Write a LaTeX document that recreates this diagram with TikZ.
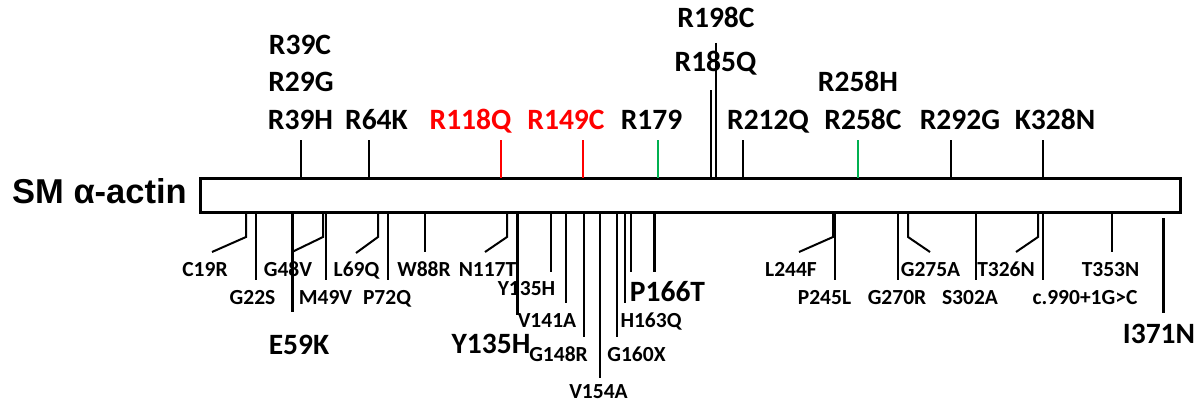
\documentclass[tikz,border=0pt]{standalone}
\usepackage{fontspec}
\setmainfont{Carlito}
\newfontfamily\titlefont{Liberation Sans}
\definecolor{mred}{RGB}{255,0,0}
\definecolor{mgreen}{RGB}{0,176,80}
\begin{document}
\begin{tikzpicture}[x=1pt,y=-1pt,
  big/.style={font=\bfseries\fontsize{29.5}{30}\selectfont, inner sep=0pt, anchor=base},
  small/.style={font=\bfseries\fontsize{21.5}{22}\selectfont, inner sep=0pt, anchor=base},
  tick/.style={line width=2pt},
  heavy/.style={line width=3pt}]
\useasboundingbox (0,0) rectangle (1201,404);

% protein bar and its name
\node[draw, line width=3pt, minimum width=980pt, minimum height=34pt,
      inner sep=0pt, outer sep=0pt, anchor=north west] (bar) at (200,178) {};
\node[font=\titlefont\bfseries\fontsize{34.5}{35}\selectfont, inner sep=0pt,
      anchor=base west] (name) at (12,203) {SM α-actin};

% mutations above the bar
\node[big] (r39c) at (300,55) {R39C};
\node[big] (r29g) at (301,92) {R29G};
\node[big] (r39h) at (300.5,129) {R39H};
\node[big] (r64k) at (376.5,129) {R64K};
\node[big, text=mred] (r118q) at (470.5,129) {R118Q};
\node[big, text=mred] (r149c) at (566,129) {R149C};
\node[big] (r179) at (651.5,129) {R179};
\node[big] (r198c) at (716,28) {R198C};
\node[big] (r185q) at (715.5,71) {R185Q};
\node[big] (r258h) at (858,92) {R258H};
\node[big] (r212q) at (768,129) {R212Q};
\node[big] (r258c) at (863,129) {R258C};
\node[big] (r292g) at (960,129) {R292G};
\node[big] (k328n) at (1055,129) {K328N};

\foreach \x/\t/\c in {301/140/black, 369/140/black, 501/140/mred, 583/140/mred,
    658/140/mgreen, 711/90/black, 716/43/black, 743/140/black,
    858/140/mgreen, 951/140/black, 1043/140/black}
  \draw[tick, draw=\c] (\x,\t) -- (\x,0 |- bar.north);

% mutations below the bar
\node[small] (c19r) at (205,276) {C19R};
\node[small] (g22s) at (252.5,304) {G22S};
\node[small] (g48v) at (288,276) {G48V};
\node[small] (m49v) at (325.5,304) {M49V};
\node[small] (l69q) at (356.5,276) {L69Q};
\node[small] (p72q) at (387,304) {P72Q};
\node[small] (w88r) at (424,276) {W88R};
\node[small] (n117t) at (487.5,276) {N117T};
\node[small] (y135hs) at (526.5,295) {Y135H};
\node[small] (v141a) at (547,327) {V141A};
\node[small] (g148r) at (558.5,361) {G148R};
\node[small] (v154a) at (598.5,398) {V154A};
\node[small] (g160x) at (636.5,361) {G160X};
\node[small] (h163q) at (651,327) {H163Q};
\node[small] (l244f) at (791,276) {L244F};
\node[small] (p245l) at (824.5,304) {P245L};
\node[small] (g270r) at (897,304) {G270R};
\node[small] (g275a) at (930.5,276) {G275A};
\node[small] (s302a) at (970,304) {S302A};
\node[small] (t326n) at (1006,276) {T326N};
\node[small] (c990) at (1085,304) {c.990+1G>C};
\node[small] (t353n) at (1110.5,276) {T353N};

\node[big] (e59k) at (299,354) {E59K};
\node[big] (y135h) at (491,353) {Y135H};
\node[big] (p166t) at (667.5,301) {P166T};
\node[big] (i371n) at (1159,343) {I371N};

% straight leaders
\foreach \x/\e in {256/280, 326/280, 388/280, 425/252, 551/272, 566/303,
    584/337, 600/378, 617/337, 625/303, 631/272, 835/280, 898/280,
    976/280, 1043/280, 1112/252}
  \draw[tick] (\x,0 |- bar.south) -- (\x,\e);

% bent leaders
\foreach \x/\ex/\ey in {246/212/252, 323/292/252, 378/356/253, 507/485/252,
    833/799/252, 908/930/252, 1038/1016/252}
  \draw[tick] (\x,0 |- bar.south) -- (\x,237) -- (\ex,\ey);

% heavy leaders
\foreach \x/\s/\e in {292/212/312, 517/212/315, 654/212/272, 1163/218/313}
  \draw[heavy] (\x,\s) -- (\x,\e);
\end{tikzpicture}
\end{document}
